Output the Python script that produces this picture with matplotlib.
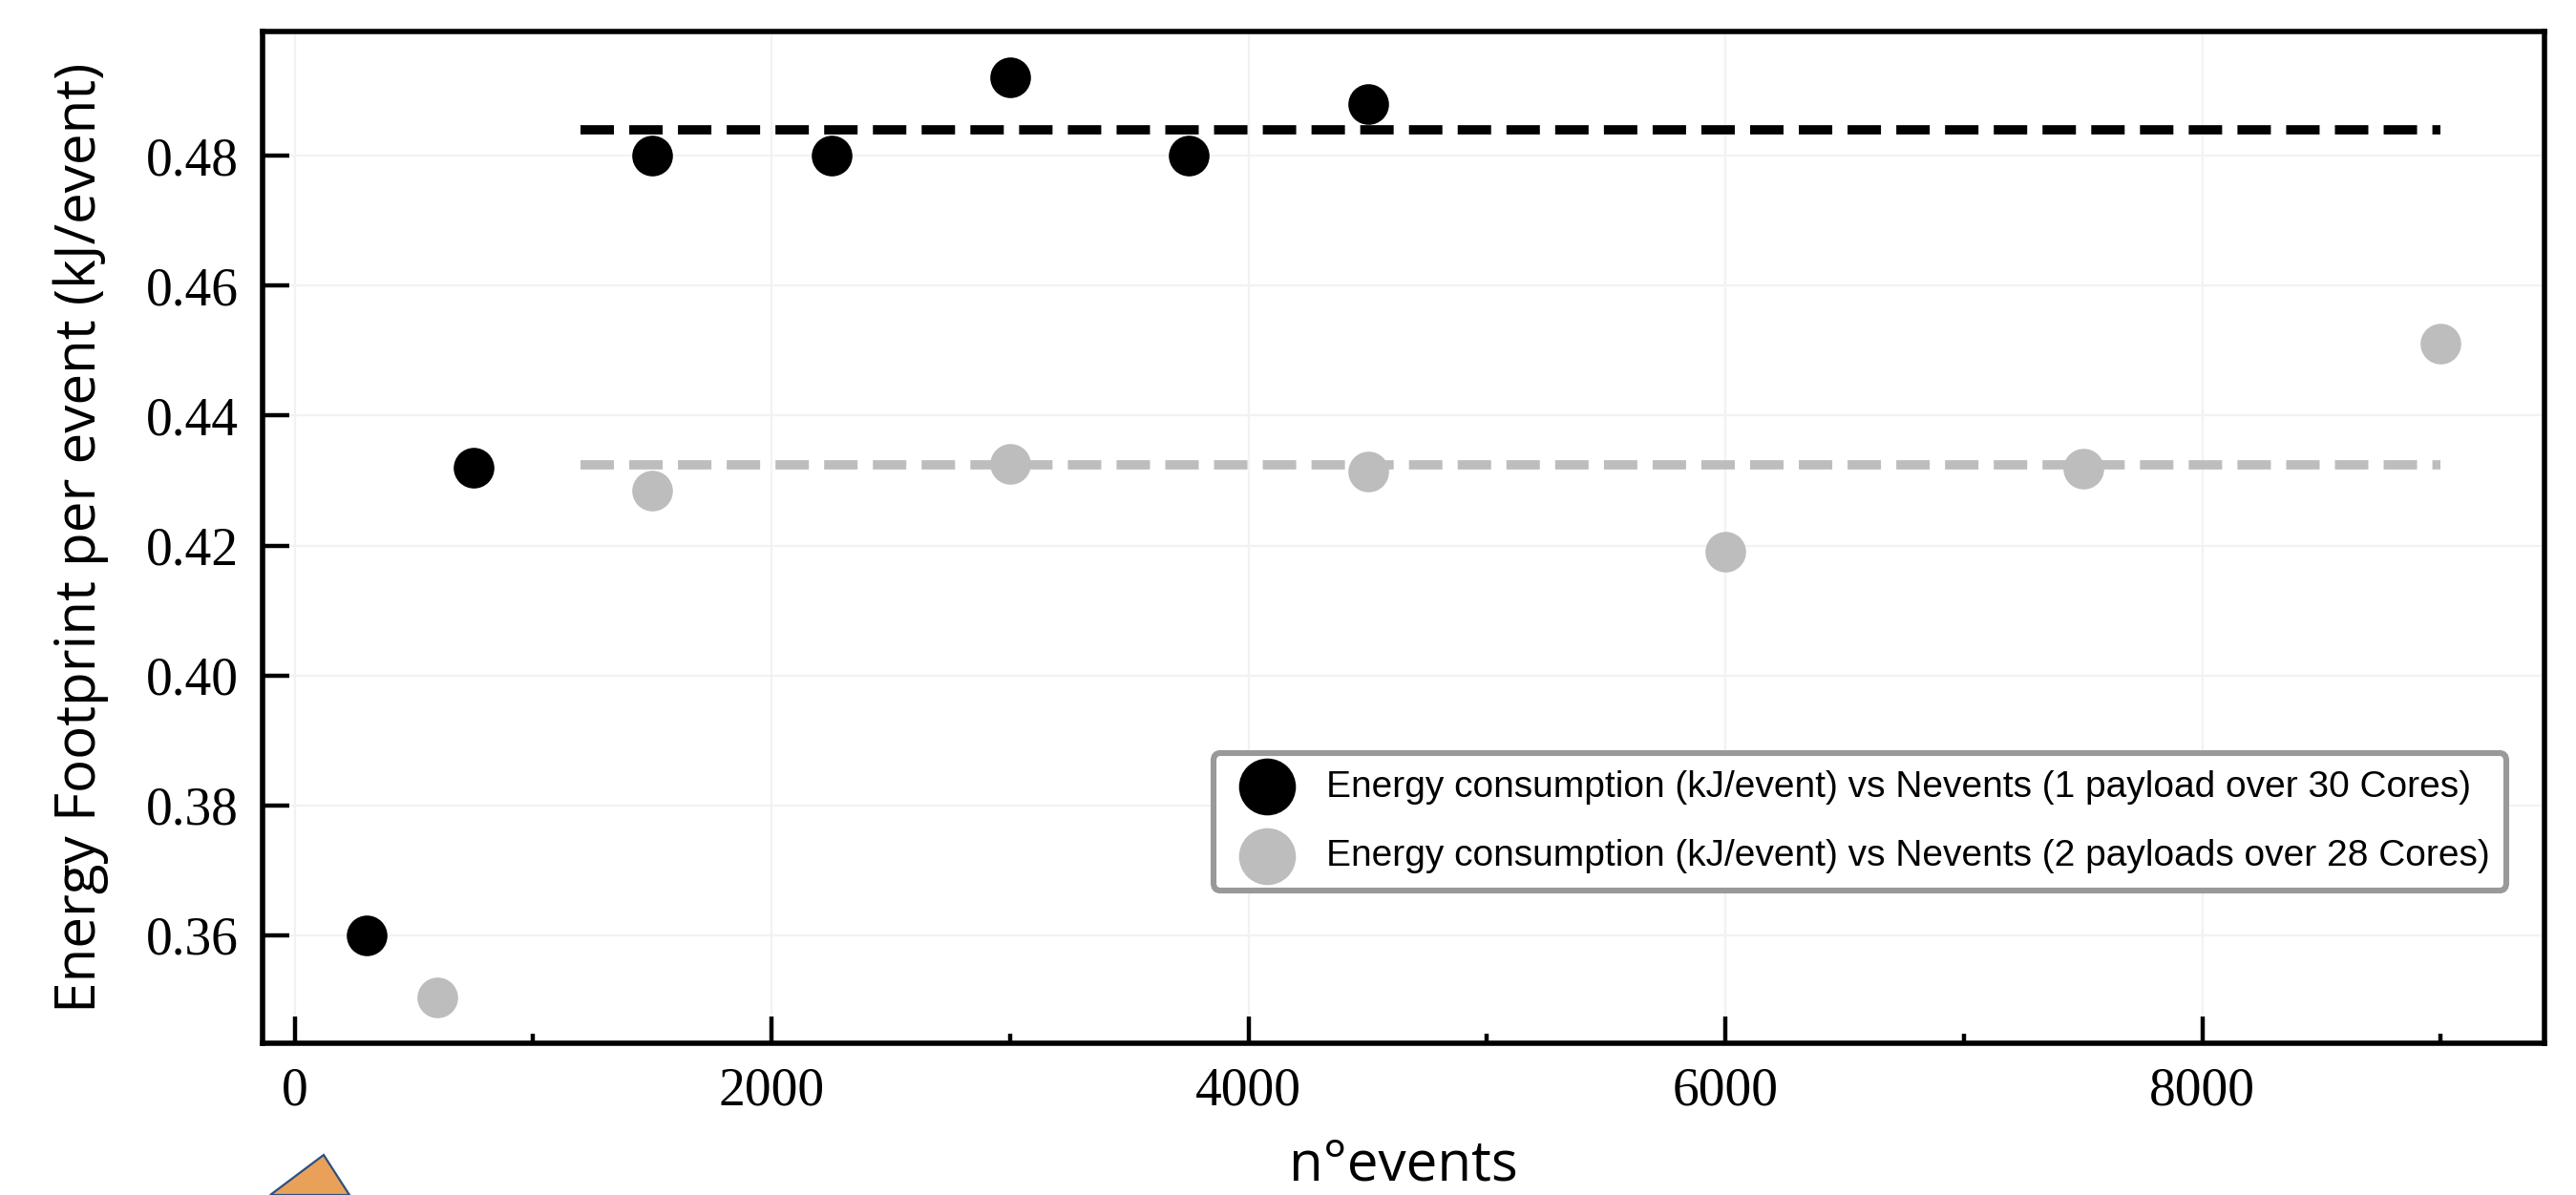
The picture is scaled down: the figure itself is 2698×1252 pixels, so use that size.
import matplotlib
matplotlib.use("Agg")
import matplotlib.pyplot as plt
from matplotlib.patches import Polygon
from matplotlib.ticker import MultipleLocator
import numpy as np

# 1 payload over 30 cores
n_events_1p = [300, 750, 1500, 2250, 3000, 3750, 4500]
energy_1p = [0.360, 0.432, 0.480, 0.480, 0.492, 0.480, 0.488]

# 2 payloads over 28 cores
n_events_2p = [600, 1500, 3000, 4500, 6000, 7500, 9000]
energy_2p = [0.3505, 0.4285, 0.4325, 0.4314, 0.4190, 0.4318, 0.4510]

label_1p = "Energy consumption (kJ/event) vs Nevents (1 payload over 30 Cores)"
label_2p = "Energy consumption (kJ/event) vs Nevents (2 payloads over 28 Cores)"

# plateau averages (points from 1500 events on)
avg_start, avg_end = 1200, 9000
mean_1p = np.mean([e for n, e in zip(n_events_1p, energy_1p) if n >= 1500])
mean_2p = np.mean([e for n, e in zip(n_events_2p, energy_2p) if n >= 1500])

BLACK = "#000000"
GREY = "#bdbdbd"
DASH = (0, (3.6, 1.65))

fig = plt.figure(figsize=(13.49, 6.26), dpi=200)
ax = fig.add_axes([0.1019, 0.127, 0.8859, 0.8466])

ax.grid(True, color="#f2f2f2", linewidth=0.8, zorder=0)
ax.set_axisbelow(True)

ax.scatter(n_events_1p, energy_1p, s=235, color=BLACK, label=label_1p, zorder=3, linewidths=0)
ax.scatter(n_events_2p, energy_2p, s=235, color=GREY, label=label_2p, zorder=3, linewidths=0)
ax.hlines(mean_1p, avg_start, avg_end, colors=BLACK, linestyles=[DASH], linewidth=3.5, zorder=2)
ax.hlines(mean_2p, avg_start, avg_end, colors=GREY, linestyles=[DASH], linewidth=3.5, zorder=2)

ax.set_xlim(-135, 9435)
ax.set_ylim(0.3434, 0.4991)

ax.xaxis.set_major_locator(MultipleLocator(2000))
ax.xaxis.set_minor_locator(MultipleLocator(1000))
ax.yaxis.set_major_locator(MultipleLocator(0.02))
ax.tick_params(axis="both", which="major", direction="in", length=10, width=1.6,
               top=False, right=False)
ax.tick_params(axis="x", which="minor", direction="in", length=3.5, width=1.6, top=False)
ax.tick_params(axis="both", labelsize=20, pad=9)
for lab in ax.get_xticklabels() + ax.get_yticklabels():
    lab.set_family("Liberation Serif")
for sp in ax.spines.values():
    sp.set_linewidth(2)

ax.set_xlabel("n°events", family="Open Sans", fontsize=21, labelpad=8)
ax.set_ylabel("Energy Footprint per event (kJ/event)", family="Open Sans", fontsize=21, labelpad=14)

leg = ax.legend(loc="lower right", bbox_to_anchor=(0.9834, 0.151), borderaxespad=0,
                prop={"family": "Liberation Sans", "size": 14},
                markerscale=1.4, frameon=True, fancybox=True, borderpad=0.45, handletextpad=0.6,
                labelspacing=0.95)
leg.get_frame().set_edgecolor("#999999")
leg.get_frame().set_linewidth(2.2)
leg.get_frame().set_alpha(1)

# cropped decoration at lower left edge of the original picture
fig.patches.append(Polygon([[283 / 2698, 0], [339 / 2698, 42 / 1252], [366 / 2698, 0]],
                           closed=True, transform=fig.transFigure, facecolor="#e9a15a",
                           edgecolor="#2f4f7f", linewidth=0.8))

fig.savefig("out.png", dpi=200)
